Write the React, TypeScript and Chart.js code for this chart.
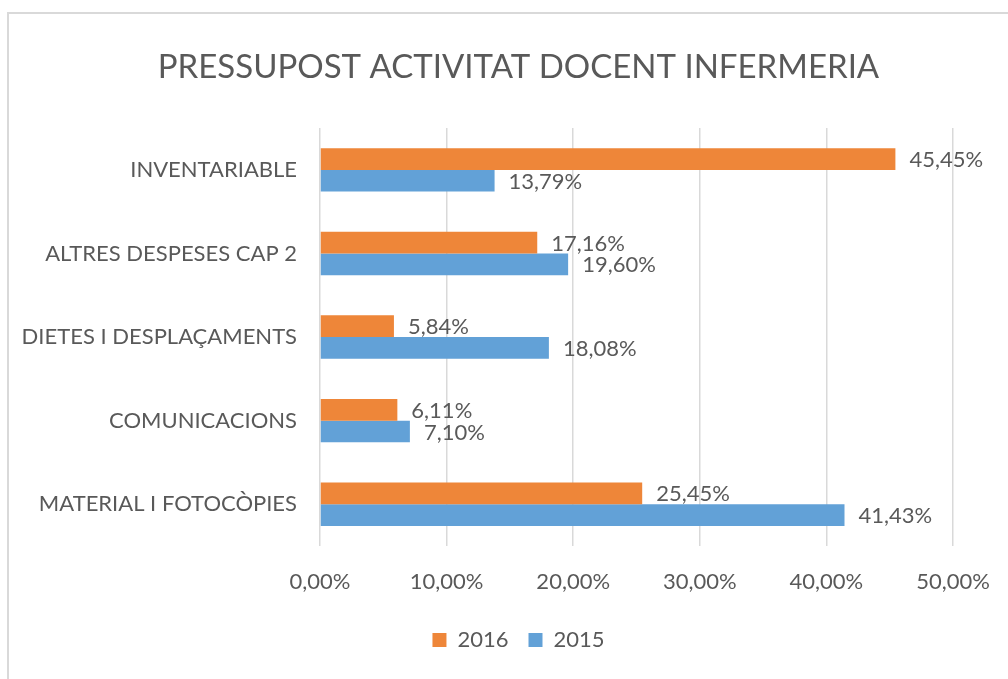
import React, { useEffect, useRef } from "react";
import { Chart, registerables } from "chart.js";

Chart.register(...registerables);

const categories = [
  "INVENTARIABLE",
  "ALTRES DESPESES CAP 2",
  "DIETES I DESPLAÇAMENTS",
  "COMUNICACIONS",
  "MATERIAL I FOTOCÒPIES",
];
const values2016 = [45.45, 17.16, 5.84, 6.11, 25.45];
const values2015 = [13.79, 19.6, 18.08, 7.1, 41.43];
const seriesNames = ["2016", "2015"];
const xTicks = [0, 10, 20, 30, 40, 50];

const FONT = "Lato, sans-serif";
const TEXT = "#595959";

const fmt = (v: number) => v.toFixed(2).replace(".", ",") + "%";

const borderPlugin = {
  id: "frame",
  beforeDraw(chart: any) {
    const { ctx } = chart;
    ctx.save();
    ctx.fillStyle = "#ffffff";
    ctx.fillRect(0, 0, chart.width, chart.height);
    ctx.strokeStyle = "#d9d9d9";
    ctx.lineWidth = 2;
    ctx.strokeRect(8, 13, chart.width + 20, chart.height + 20);
    ctx.restore();
  },
};

const labelPlugin = {
  id: "barLabels",
  afterDatasetsDraw(chart: any) {
    const { ctx } = chart;
    ctx.save();
    ctx.font = `22px ${FONT}`;
    ctx.fillStyle = TEXT;
    ctx.textAlign = "left";
    ctx.textBaseline = "middle";
    chart.data.datasets.forEach((ds: any, i: number) => {
      const meta = chart.getDatasetMeta(i);
      meta.data.forEach((bar: any, j: number) => {
        ctx.fillText(fmt(ds.data[j]), bar.x + 14, bar.y + 1);
      });
    });
    ctx.restore();
  },
};

export default function App() {
  const ref = useRef<HTMLCanvasElement>(null);
  useEffect(() => {
    if (!ref.current) return;
    const chart = new Chart(ref.current, {
      type: "bar",
      data: {
        labels: categories,
        datasets: [
          {
            label: seriesNames[0],
            data: values2016,
            backgroundColor: "#EE8639",
            categoryPercentage: 0.52,
            barPercentage: 1.0,
          },
          {
            label: seriesNames[1],
            data: values2015,
            backgroundColor: "#62A1D7",
            categoryPercentage: 0.52,
            barPercentage: 1.0,
          },
        ],
      },
      options: {
        indexAxis: "y",
        responsive: false,
        animation: false,
        layout: { padding: { left: 84, right: 55, top: 0, bottom: 18 } },
        scales: {
          x: {
            min: 0,
            max: 50,
            afterBuildTicks(scale: any) {
              scale.ticks = xTicks.map((v) => ({ value: v }));
            },
            afterFit(scale: any) {
              scale.height = 63;
              scale.paddingLeft = 0;
              scale.paddingRight = 0;
            },
            grid: { color: "#d9d9d9", lineWidth: 1.5, drawTicks: false },
            border: { display: false },
            ticks: {
              padding: 23,
              color: TEXT,
              font: { family: FONT, size: 22 },
              callback: (v: any) => fmt(Number(v)),
            },
          },
          y: {
            afterFit(scale: any) {
              scale.width = 236;
              scale._computeLabelArea = () => undefined;
            },
            grid: { display: false, drawTicks: false },
            border: { display: false },
            ticks: {
              padding: 23,
              color: TEXT,
              font: { family: FONT, size: 22 },
            },
          },
        },
        plugins: {
          title: {
            display: true,
            text: "PRESSUPOST ACTIVITAT DOCENT INFERMERIA",
            color: TEXT,
            font: { family: FONT, size: 33, weight: "normal" },
            padding: { top: 48, bottom: 40.5 },
          },
          legend: {
            position: "bottom",
            labels: {
              color: TEXT,
              font: { family: FONT, size: 22 },
              boxWidth: 14,
              boxHeight: 14,
              padding: 20,
            },
          },
          tooltip: { enabled: false },
        },
      },
      plugins: [borderPlugin, labelPlugin],
    } as any);
    return () => chart.destroy();
  }, []);
  return (
    <div style={{ position: "fixed", left: 0, top: 0, width: 1008, height: 679 }}>
      <canvas ref={ref} width={1008} height={679} style={{ display: "block" }} />
    </div>
  );
}
